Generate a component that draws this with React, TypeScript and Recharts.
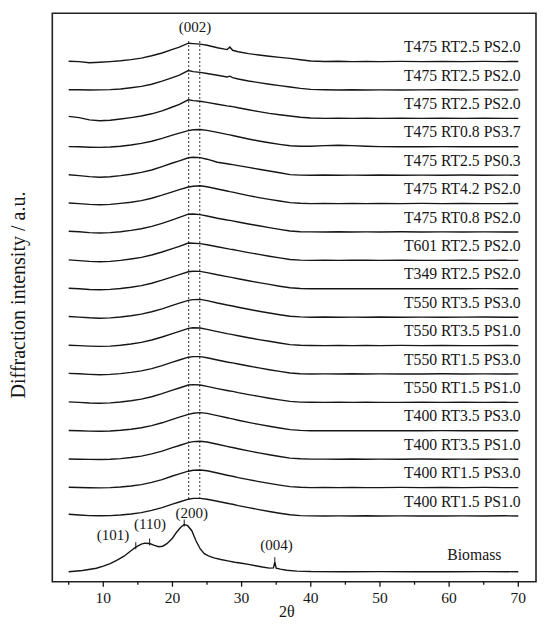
import React from 'react';
import { LineChart, Line, XAxis, YAxis, ReferenceLine, ReferenceArea, ReferenceDot } from 'recharts';

// 2θ positions shared by the char patterns
const TWO_THETA = [5, 6.5, 8, 9.5, 11, 12.5, 14, 15.5, 17, 18.5, 20, 21, 22.3, 23, 24, 25, 26.5, 27.9, 28.3, 28.7, 29.5, 31, 32.5, 34, 35.5, 37, 38.5, 40, 42, 44, 46, 48, 50, 53, 56, 59, 62, 65, 68, 70];

// sample labels, top to bottom
const SAMPLE_LABELS = [
  'T475 RT2.5 PS2.0', 'T475 RT2.5 PS2.0', 'T475 RT2.5 PS2.0', 'T475 RT0.8 PS3.7',
  'T475 RT2.5 PS0.3', 'T475 RT4.2 PS2.0', 'T475 RT0.8 PS2.0', 'T601 RT2.5 PS2.0',
  'T349 RT2.5 PS2.0', 'T550 RT3.5 PS3.0', 'T550 RT3.5 PS1.0', 'T550 RT1.5 PS3.0',
  'T550 RT1.5 PS1.0', 'T400 RT3.5 PS3.0', 'T400 RT3.5 PS1.0', 'T400 RT1.5 PS3.0',
  'T400 RT1.5 PS1.0',
];

// intensities (a.u.) of each char pattern on TWO_THETA, top to bottom
const t475a = [0.3, 0, -1.2, -0.6, 0, 0.8, 2.0, 3.5, 5.8, 8.6, 12.2, 14.5, 18.4, 18.0, 17.5, 16.4, 13.8, 12.0, 14.5, 11.3, 9.8, 8.0, 6.6, 5.3, 4.2, 3.2, 1.8, 0.6, 0.1, 0.3, 0, 0.1, 0, 0.2, 0, 0.1, 0, 0.2, 0, 0.1];
const t475b = [0.3, 0.2, 0, 0.1, 0.4, 1.0, 2.2, 3.6, 5.8, 8.8, 12.4, 14.8, 19.4, 18.4, 17.6, 16.5, 14.8, 13.0, 13.8, 12.4, 11.0, 9.0, 7.4, 5.8, 4.4, 3.0, 1.6, 0.6, 0.2, 0, 0.2, 0, 0.1, 0, 0.1, 0.2, 0, 0.1, 0, 0.1];
const t475c = [2.0, 0.8, -1.5, -2.4, -1.8, -0.6, 0.8, 2.4, 4.6, 7.6, 11.4, 14.0, 18.6, 17.8, 17.2, 16.0, 14.2, 12.5, 12.2, 11.8, 10.6, 8.6, 6.8, 5.0, 3.6, 2.4, 1.2, 0.4, 0, 0.2, 0, 0.1, 0, 0.1, 0, 0.2, 0, 0.1, 0, 0];
const t475rt08ps37 = [0.2, 0, -0.4, -0.6, -0.2, 0.6, 1.8, 3.4, 5.6, 8.4, 11.6, 13.6, 16.2, 17.0, 17.3, 16.4, 14.4, 12.4, 11.9, 11.3, 10.0, 7.8, 5.8, 4.0, 2.4, 1.0, 0.5, 0.6, 1.2, 1.6, 1.2, 0.6, 0.2, 0.1, 0, 0.2, 0, 0.1, 0, 0];
const t475ps03 = [0.4, -0.4, -1.4, -2.0, -1.5, -0.4, 1.0, 2.8, 5.2, 8.6, 12.2, 14.4, 17.4, 18.0, 17.6, 16.0, 13.0, 11.4, 11.0, 10.6, 9.6, 7.8, 6.0, 4.2, 2.4, 0.6, 0.1, 0, 0.2, 0, 0.1, 0, 0.2, 0, 0.1, 0, 0.2, 0, 0.1, 0];
const t475rt42 = [0.6, 0, -0.8, -1.2, -0.8, 0.2, 1.4, 3.0, 5.4, 8.4, 11.8, 14.0, 16.6, 17.4, 17.8, 16.8, 14.6, 12.6, 12.0, 11.5, 10.2, 8.0, 6.0, 4.2, 2.6, 1.0, 0.3, 0, 0.1, 0, 0.2, 0, 0.1, 0, 0.2, 0, 0.1, 0, 0, 0.1];
const t475rt08 = [0.8, 0.2, -0.6, -1.0, -0.6, 0.3, 1.6, 3.2, 5.6, 8.6, 12.2, 14.6, 17.8, 18.0, 17.4, 16.0, 13.8, 12.0, 11.6, 11.1, 10.0, 8.0, 6.2, 4.4, 2.6, 1.0, 0.3, 0.1, 0, 0.2, 0, 0.1, 0, 0.2, 0, 0.1, 0, 0.1, 0, 0];
const t601 = [0.5, -0.2, -1.0, -1.4, -1.0, 0, 1.4, 3.0, 5.4, 8.4, 11.8, 14.0, 17.4, 17.2, 16.8, 15.6, 13.6, 11.8, 11.3, 10.9, 9.8, 7.8, 6.0, 4.2, 2.5, 0.9, 0.3, 0, 0.1, 0, 0.1, 0.2, 0, 0.1, 0, 0, 0.2, 0, 0.1, 0];
const t349 = [0.6, 0, -0.7, -1.0, -0.6, 0.3, 1.6, 3.2, 5.6, 8.6, 12.0, 14.2, 17.0, 17.6, 17.4, 16.2, 14.0, 12.2, 11.7, 11.2, 10.0, 8.0, 6.2, 4.4, 2.6, 1.0, 0.3, 0.1, 0, 0.1, 0, 0.2, 0, 0.1, 0, 0.1, 0, 0.2, 0, 0];
const t550rt35ps30 = [0.7, 0.1, -0.6, -1.0, -0.7, 0.2, 1.5, 3.1, 5.5, 8.4, 11.8, 14.0, 16.8, 17.6, 17.8, 16.6, 14.2, 12.2, 11.7, 11.2, 10.0, 7.9, 6.0, 4.2, 2.5, 1.0, 0.3, 0, 0.2, 0, 0.1, 0, 0.2, 0, 0.1, 0, 0.1, 0.2, 0, 0];
const t550rt35ps10 = [0.4, 0, -0.5, -0.8, -0.5, 0.4, 1.6, 3.2, 5.6, 8.6, 12.0, 14.2, 17.2, 17.8, 17.6, 16.2, 14.0, 12.0, 11.5, 11.0, 9.9, 7.9, 6.0, 4.3, 2.6, 1.0, 0.3, 0.1, 0, 0.2, 0, 0.1, 0, 0.2, 0, 0.1, 0, 0, 0.2, 0];
const t550rt15ps30 = [0.6, 0.2, -0.4, -0.8, -0.4, 0.4, 1.6, 3.1, 5.4, 8.4, 11.8, 14.0, 16.8, 17.4, 17.4, 16.2, 14.0, 12.0, 11.5, 11.1, 10.0, 8.0, 6.1, 4.3, 2.6, 1.0, 0.3, 0, 0.1, 0, 0.2, 0, 0.1, 0, 0, 0.2, 0, 0.1, 0, 0.1];
const t550rt15ps10 = [0.5, 0, -0.6, -0.9, -0.5, 0.4, 1.7, 3.3, 5.7, 8.7, 12.2, 14.4, 17.4, 17.8, 17.4, 16.0, 13.8, 11.9, 11.4, 11.0, 9.8, 7.8, 6.0, 4.2, 2.5, 1.0, 0.3, 0.1, 0, 0.1, 0, 0.2, 0, 0, 0.1, 0, 0.2, 0, 0.1, 0];
const t400rt35ps30 = [0.3, 0, -0.3, -0.4, -0.2, 0.5, 1.6, 3.0, 5.2, 8.0, 11.4, 13.6, 16.4, 17.6, 18.2, 17.4, 15.2, 13.0, 12.4, 11.9, 10.6, 8.4, 6.4, 4.6, 2.8, 1.2, 0.4, 0.1, 0, 0.2, 0, 0.1, 0, 0.1, 0, 0.2, 0, 0.1, 0, 0];
const t400rt35ps10 = [0.2, 0, -0.2, -0.3, 0, 0.6, 1.7, 3.1, 5.3, 8.1, 11.5, 13.7, 16.6, 17.6, 18.0, 17.2, 15.0, 12.8, 12.2, 11.7, 10.5, 8.3, 6.3, 4.5, 2.7, 1.1, 0.4, 0.1, 0.1, 0, 0.2, 0, 0.1, 0, 0.2, 0, 0.1, 0, 0.1, 0];
const t400rt15ps30 = [0.4, 0.1, -0.2, -0.3, 0, 0.6, 1.6, 3.0, 5.2, 8.0, 11.6, 13.8, 16.4, 17.4, 17.6, 16.8, 14.6, 12.4, 11.8, 11.3, 10.0, 8.0, 6.0, 4.2, 2.5, 1.0, 0.3, 0, 0.2, 0, 0.1, 0, 0, 0.2, 0, 0.1, 0, 0.2, 0, 0];
const t400rt15ps10 = [1.8, 1.0, 0.4, 0.2, 0.4, 1.0, 2.0, 3.4, 5.6, 8.4, 11.8, 14.0, 16.8, 17.6, 17.6, 16.8, 14.8, 12.8, 12.2, 11.7, 10.4, 8.4, 6.4, 4.5, 2.8, 1.2, 0.4, 0.1, 0, 0.1, 0, 0.2, 0, 0.1, 0, 0, 0.1, 0, 0.2, 0];

const CHAR_SERIES = [
  t475a, t475b, t475c, t475rt08ps37, t475ps03, t475rt42, t475rt08, t601, t349,
  t550rt35ps30, t550rt35ps10, t550rt15ps30, t550rt15ps10,
  t400rt35ps30, t400rt35ps10, t400rt15ps30, t400rt15ps10,
];

// raw biomass pattern
const BIOMASS_THETA = [5, 7, 9, 10, 11, 12, 13, 14, 14.7, 15.5, 16, 16.7, 17.3, 18, 18.6, 19.2, 20, 20.6, 21.2, 21.7, 22.2, 22.8, 23.4, 24, 24.6, 25.2, 26, 27, 28, 29, 30, 31, 32, 33, 34, 34.6, 34.8, 35.0, 35.6, 36.5, 38, 40, 45, 50, 55, 60, 65, 70];
const BIOMASS_I = [0, 1.2, 3.5, 5.5, 8, 11.5, 15.5, 21, 24.5, 27.5, 28.5, 28.2, 26.5, 25, 25.5, 28, 33.5, 39.5, 44.5, 47.2, 46, 41, 31, 23, 18, 15.8, 13.8, 12.2, 10.8, 9.5, 8.4, 7.3, 6, 4.7, 3.6, 3.8, 9.5, 3.6, 2.6, 1.4, 0.6, 0.2, 0, 0.1, 0, 0, 0.1, 0];

// cellulose reflections marked on the biomass pattern
const BIOMASS_PEAKS = [
  { label: '(101)', theta: 14.7, lx: 11.4, ly: 36.7 },
  { label: '(110)', theta: 16.7, lx: 16.75, ly: 47.7 },
  { label: '(200)', theta: 21.7, lx: 22.8, ly: 58.7 },
  { label: '(004)', theta: 34.8, lx: 35.06, ly: 26.7 },
];
const G002_LINES = [22.35, 23.95];
const X_TICKS = [5, 10, 15, 20, 25, 30, 35, 40, 45, 50, 55, 60, 65, 70];

// layout (value units = pixels)
const X_DOMAIN: [number, number] = [2.63, 72.56];
const Y_MAX = 568.4;
const BIOMASS_BASE = 10;
const CHAR_BASE = 65.7;
const CHAR_STEP = 28.4;

const FONT = '"Liberation Serif", "Times New Roman", Times, serif';
const INK = '#161616';

const charOffset = (t: number) => CHAR_BASE + CHAR_STEP * (CHAR_SERIES.length - 1 - t);

const charData = CHAR_SERIES.map((s, t) =>
  TWO_THETA.map((x, k) => ({ x, y: s[k] + charOffset(t) }))
);
const biomassData = BIOMASS_THETA.map((x, k) => ({ x, y: BIOMASS_I[k] + BIOMASS_BASE }));

const XTick = (props: any) => {
  const { x, y, payload } = props;
  const major = payload.value % 10 === 0;
  return (
    <g>
      <line x1={x} x2={x} y1={y} y2={y + (major ? 5 : 3)} stroke={INK} strokeWidth={1.3} />
      {major && (
        <text x={x} y={y + 21} textAnchor="middle" fontSize={15.5} fill={INK} fontFamily={FONT}>
          {payload.value}
        </text>
      )}
    </g>
  );
};

const textLabel = (text: string, anchor: 'start' | 'middle' | 'end', size: number, dy: number) =>
  (p: any) => {
    const vb = p.viewBox || {};
    const cx = vb.x + (vb.width || 0) / 2;
    const cy = vb.y + (vb.height || 0) / 2;
    return (
      <text x={cx} y={cy + dy} textAnchor={anchor} fontSize={size} fill={INK} fontFamily={FONT}>
        {text}
      </text>
    );
  };

export default function App() {
  const lastIdx = TWO_THETA.length - 1;
  return (
    <LineChart
      width={542}
      height={619}
      margin={{ top: 5.3, right: 14, bottom: 15.3, left: 0 }}
      style={{ fontFamily: FONT }}
    >
      <XAxis
        type="number"
        dataKey="x"
        domain={X_DOMAIN}
        allowDataOverflow
        ticks={X_TICKS}
        interval={0}
        axisLine={false}
        tickLine={false}
        tickSize={0}
        tickMargin={0}
        tick={<XTick />}
        height={30}
        label={(p: any) => {
          const vb = p.viewBox;
          return (
            <text x={vb.x + vb.width / 2 - 7.2} y={vb.y + 35.5} textAnchor="middle" fontSize={16} fill={INK} fontFamily={FONT}>
              2θ
            </text>
          );
        }}
      />
      <YAxis
        type="number"
        domain={[0, Y_MAX]}
        allowDataOverflow
        tick={false}
        axisLine={false}
        tickLine={false}
        width={44.3}
        label={(p: any) => {
          const vb = p.viewBox;
          const cy = vb.y + vb.height / 2 - 2.5;
          return (
            <text x={16.5} y={cy} transform={`rotate(-90, 16.5, ${cy})`} textAnchor="middle" fontSize={20} fill={INK} fontFamily={FONT}>
              Diffraction intensity / a.u.
            </text>
          );
        }}
      />
      <ReferenceArea x1={X_DOMAIN[0]} x2={X_DOMAIN[1]} y1={0} y2={Y_MAX} fill="none" stroke="#222" strokeWidth={1.6} />

      {G002_LINES.map((gx) => (
        <ReferenceLine
          key={gx}
          segment={[{ x: gx, y: charOffset(CHAR_SERIES.length - 1) + 17 }, { x: gx, y: charOffset(0) + 21 }]}
          stroke="#333"
          strokeWidth={1}
          strokeDasharray="2 2"
        />
      ))}
      <ReferenceDot x={23.25} y={charOffset(0) + 35} r={1} fill="none" stroke="none" label={textLabel('(002)', 'middle', 15, 5)} />

      {charData.map((d, t) => (
        <Line
          key={t}
          data={d}
          dataKey="y"
          type="linear"
          dot={false}
          activeDot={false}
          stroke={INK}
          strokeWidth={1.4}
          isAnimationActive={false}
        />
      ))}
      <Line
        data={biomassData}
        dataKey="y"
        type="linear"
        dot={false}
        activeDot={false}
        stroke={INK}
        strokeWidth={1.4}
        isAnimationActive={false}
      />

      {CHAR_SERIES.map((s, t) => (
        <ReferenceDot
          key={'lab' + t}
          x={70.35}
          y={charOffset(t) + s[lastIdx] + 9.4}
          r={1}
          fill="none"
          stroke="none"
          label={textLabel(SAMPLE_LABELS[t], 'end', 15.7, 0)}
        />
      ))}
      <ReferenceDot
        x={67.55}
        y={BIOMASS_BASE + BIOMASS_I[BIOMASS_I.length - 1] + 11.7}
        r={1}
        fill="none"
        stroke="none"
        label={textLabel('Biomass', 'end', 15.7, 0)}
      />

      {BIOMASS_PEAKS.map((pk) => {
        const v = BIOMASS_I[BIOMASS_THETA.indexOf(pk.theta)] + BIOMASS_BASE;
        return (
          <ReferenceLine
            key={'tk' + pk.label}
            segment={[{ x: pk.theta, y: v - 2 }, { x: pk.theta, y: v + 5 }]}
            stroke={INK}
            strokeWidth={1}
          />
        );
      })}
      {BIOMASS_PEAKS.map((pk) => (
        <ReferenceDot
          key={'pl' + pk.label}
          x={pk.lx}
          y={pk.ly + BIOMASS_BASE}
          r={1}
          fill="none"
          stroke="none"
          label={textLabel(pk.label, 'middle', 15, 5)}
        />
      ))}
    </LineChart>
  );
}
